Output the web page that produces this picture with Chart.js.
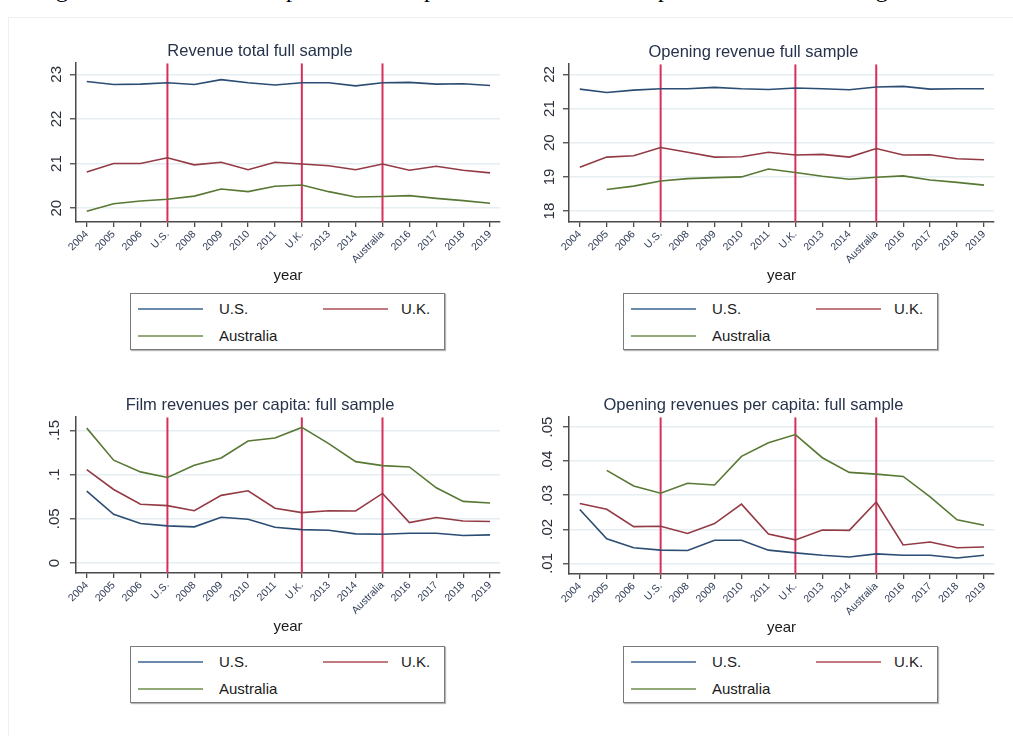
<!DOCTYPE html>
<html>
<head>
<meta charset="utf-8">
<script src="https://cdn.jsdelivr.net/npm/chart.js@4"></script>
<style>
  body { margin: 0; background: #fff; width: 1013px; height: 736px; overflow: hidden; position: relative; font-family: 'Liberation Sans', Arial, sans-serif; }
  #frame { position: absolute; left: 8px; top: 17px; width: 1100px; height: 800px; border: 1px solid #efefef; }
  #caption { position: absolute; left: 36px; top: -23px; font: 24px/24px 'Liberation Serif', 'Times New Roman', serif; color: #000; white-space: nowrap; }
  canvas { position: absolute; }
  .legend { position: absolute; width: 313px; height: 55px; border: 1.5px solid #7b7b7b; box-shadow: 1px 1px 1px #b5b5b5; background: #fff; }
  .legend .sw { position: absolute; width: 65px; height: 2px; }
  .legend .lt { position: absolute; font-size: 15px; line-height: 18px; color: #1b1b1b; }
</style>
</head>
<body>
<div id="frame"></div>
<div id="caption">Figure A1: Trends for the parallel assumption with alternative dependent variables in logarithm</div>
<canvas id="c1" width="490" height="250" style="left:20px;top:38px"></canvas>
<canvas id="c2" width="491" height="249" style="left:513px;top:39px"></canvas>
<canvas id="c3" width="490" height="247" style="left:20px;top:392px"></canvas>
<canvas id="c4" width="491" height="248" style="left:513px;top:392px"></canvas>
<script>
// years on the x axis, event years replace the tick label
const years = [2004, 2005, 2006, 2007, 2008, 2009, 2010, 2011, 2012, 2013, 2014, 2015, 2016, 2017, 2018, 2019];
const xTickLabels = ['2004', '2005', '2006', 'U.S.', '2008', '2009', '2010', '2011', 'U.K.', '2013', '2014', 'Australia', '2016', '2017', '2018', '2019'];
const eventYears = [2007, 2012, 2015];
const countries = ['U.S.', 'U.K.', 'Australia'];

// Revenue total full sample (log)
const revUS = [22.84, 22.77, 22.78, 22.81, 22.77, 22.88, 22.81, 22.76, 22.81, 22.81, 22.74, 22.81, 22.82, 22.78, 22.79, 22.75];
const revUK = [20.81, 21.00, 21.00, 21.13, 20.97, 21.03, 20.86, 21.03, 20.99, 20.95, 20.86, 20.99, 20.85, 20.94, 20.85, 20.79];
const revAU = [19.93, 20.10, 20.16, 20.20, 20.27, 20.43, 20.37, 20.49, 20.52, 20.37, 20.25, 20.26, 20.28, 20.22, 20.17, 20.11];

// Opening revenue full sample (log)
const openUS = [21.57, 21.47, 21.54, 21.58, 21.58, 21.62, 21.58, 21.56, 21.60, 21.58, 21.55, 21.63, 21.65, 21.57, 21.58, 21.58];
const openUK = [19.28, 19.58, 19.62, 19.86, 19.72, 19.58, 19.59, 19.72, 19.64, 19.66, 19.58, 19.83, 19.64, 19.65, 19.53, 19.50];
const openAU = [null, 18.63, 18.73, 18.88, 18.95, 18.98, 19.00, 19.23, 19.13, 19.02, 18.93, 18.99, 19.03, 18.91, 18.84, 18.76];

// Film revenues per capita
const pcUS = [0.0814, 0.0551, 0.0446, 0.0420, 0.0409, 0.0517, 0.0495, 0.0405, 0.0378, 0.0371, 0.0330, 0.0326, 0.0337, 0.0337, 0.0311, 0.0318];
const pcUK = [0.1057, 0.0832, 0.0664, 0.0649, 0.0592, 0.0765, 0.0817, 0.0619, 0.0570, 0.0592, 0.0589, 0.0787, 0.0457, 0.0514, 0.0476, 0.0469];
const pcAU = [0.1526, 0.1163, 0.1031, 0.0967, 0.1106, 0.1189, 0.1380, 0.1414, 0.1534, 0.1350, 0.1147, 0.1102, 0.1087, 0.0851, 0.0697, 0.0679];

// Opening revenues per capita
const opcUS = [0.0258, 0.0172, 0.0146, 0.0139, 0.0138, 0.0168, 0.0168, 0.0139, 0.0131, 0.0124, 0.0119, 0.0128, 0.0124, 0.0124, 0.0116, 0.0124];
const opcUK = [0.0276, 0.0259, 0.0208, 0.0209, 0.0188, 0.0217, 0.0274, 0.0186, 0.0169, 0.0198, 0.0197, 0.0280, 0.0154, 0.0163, 0.0146, 0.0148];
const opcAU = [null, 0.0373, 0.0327, 0.0306, 0.0335, 0.0330, 0.0414, 0.0454, 0.0478, 0.0410, 0.0367, 0.0362, 0.0355, 0.0295, 0.0228, 0.0212];

const yTicks1 = [20, 21, 22, 23];
const yLabels1 = ['20', '21', '22', '23'];
const yTicks2 = [18, 19, 20, 21, 22];
const yLabels2 = ['18', '19', '20', '21', '22'];
const yTicks3 = [0, 0.05, 0.1, 0.15];
const yLabels3 = ['0', '.05', '.1', '.15'];
const yTicks4 = [0.01, 0.02, 0.03, 0.04, 0.05];
const yLabels4 = ['.01', '.02', '.03', '.04', '.05'];

const line_colors = ['#2c4d73', '#933a44', '#587834'];
const legend_colors = ['#6b8aac', '#c27a81', '#92a978'];
const event_color = '#d92f5b';

Chart.defaults.font.family = "'Liberation Sans', Arial, sans-serif";

function draw_panel(id, title, yMin, yMax, yTicks, yLabels, series) {
	const datasets = series.map((vals, k) => ({
		label: countries[k],
		data: years.map((x, i) => ({x: x, y: vals[i]})),
		borderColor: line_colors[k],
		borderWidth: 1.6,
		pointRadius: 0,
		tension: 0,
		fill: false
	}));
	eventYears.forEach(x => {
		datasets.push({
			label: '',
			data: [{x: x, y: yMin}, {x: x, y: yMax}],
			borderColor: event_color,
			borderWidth: 2,
			pointRadius: 0,
			fill: false
		});
	});

	new Chart(document.getElementById(id).getContext('2d'), {
		type: 'line',
		data: {datasets: datasets},
		options: {
			responsive: false,
			animation: false,
			layout: {padding: {left: 0, right: 10, top: 0, bottom: 0}},
			plugins: {
				legend: {display: false},
				tooltip: {enabled: false},
				title: {
					display: true,
					text: title,
					color: '#26334b',
					font: {size: 16.5, weight: 'normal', lineHeight: 1.1},
					padding: {top: 4, bottom: 3}
				}
			},
			scales: {
				x: {
					type: 'linear',
					min: 2003.6,
					max: 2019.37,
					afterBuildTicks: (scale) => { scale.ticks = years.map(v => ({value: v})); },
					afterFit: (scale) => { scale.height = 66; },
					grid: {drawOnChartArea: false, color: '#4a4a4a', tickLength: 5, lineWidth: 1.3},
					border: {color: '#4a4a4a', width: 1.5},
					ticks: {
						autoSkip: false,
						minRotation: 45,
						maxRotation: 45,
						padding: 1,
						color: '#34405a',
						font: {size: 10.5},
						callback: (val, i) => xTickLabels[i]
					},
					title: {
						display: true,
						text: 'year',
						color: '#1b1b1b',
						font: {size: 15},
						padding: {top: 0, bottom: 3}
					}
				},
				y: {
					min: yMin,
					max: yMax,
					afterBuildTicks: (scale) => { scale.ticks = yTicks.map(v => ({value: v})); },
					afterFit: (scale) => { scale.width = 56; },
					grid: {color: '#e5eef1', lineWidth: 1.5, tickColor: '#4a4a4a', tickLength: 6, tickWidth: 1.3},
					border: {color: '#4a4a4a', width: 1.5},
					ticks: {
						minRotation: 90,
						maxRotation: 90,
						crossAlign: 'center',
						padding: 5,
						color: '#2b2f3a',
						font: {size: 15},
						callback: (val, i) => yLabels[i]
					}
				}
			}
		}
	});
}

function draw_legend(left, top) {
	const box = document.createElement('div');
	box.className = 'legend';
	box.style.left = left + 'px';
	box.style.top = top + 'px';
	const spots = [[7, 88, 14], [192, 270, 14], [7, 88, 41]];
	countries.forEach((name, k) => {
		const sw = document.createElement('div');
		sw.className = 'sw';
		sw.style.left = spots[k][0] + 'px';
		sw.style.top = spots[k][2] + 'px';
		sw.style.background = legend_colors[k];
		box.appendChild(sw);
		const lt = document.createElement('div');
		lt.className = 'lt';
		lt.textContent = name;
		lt.style.left = spots[k][1] + 'px';
		lt.style.top = (spots[k][2] - 8) + 'px';
		box.appendChild(lt);
	});
	document.body.appendChild(box);
}

draw_panel('c1', 'Revenue total full sample', 19.69, 23.25, yTicks1, yLabels1, [revUS, revUK, revAU]);
draw_panel('c2', 'Opening revenue full sample', 17.68, 22.30, yTicks2, yLabels2, [openUS, openUK, openAU]);
draw_panel('c3', 'Film revenues per capita: full sample', -0.0113, 0.165, yTicks3, yLabels3, [pcUS, pcUK, pcAU]);
draw_panel('c4', 'Opening revenues per capita: full sample', 0.0069, 0.0529, yTicks4, yLabels4, [opcUS, opcUK, opcAU]);

draw_legend(130, 293);
draw_legend(623, 293);
draw_legend(130, 646);
draw_legend(623, 646);
</script>
</body>
</html>
